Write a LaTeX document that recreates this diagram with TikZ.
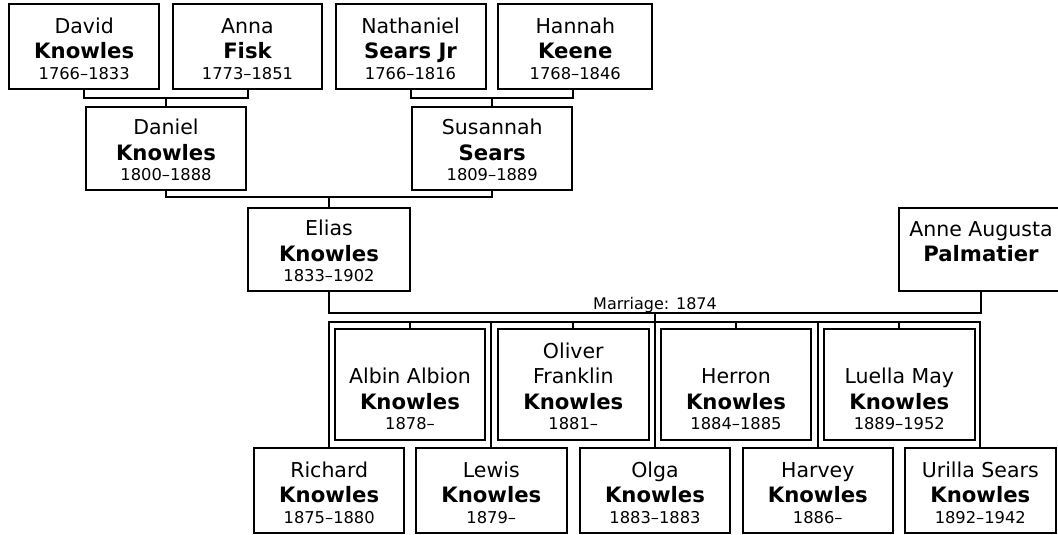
\documentclass[tikz,border=0pt]{standalone}
\usepackage{fontspec}
\setmainfont{DejaVu Sans}
\newcommand{\datef}{\fontsize{16.3}{20}\selectfont}
\newcommand{\fl}{\rule{0pt}{19pt}}
\newcommand{\bn}[1]{{\fontsize{21.2}{25.5}\selectfont\bfseries #1}}
\newcommand{\pp}[3]{\fl #1\\\bn{#2}\\[-5pt]{\datef #3}}
\tikzset{
  person/.style={draw, line width=2pt, align=center, inner sep=0pt,
    font=\fontsize{20.5}{25.5}\selectfont},
  conn/.style={line width=2pt},
  lbl/.style={font=\fontsize{16}{20}\selectfont, inner sep=0pt, anchor=base},
}
\begin{document}
\begin{tikzpicture}[x=1pt,y=1pt]
\useasboundingbox (0,0) rectangle (1058,-535);
\clip (0,0) rectangle (1058,-535);
% generation 1
\node[person, minimum width=149.7, minimum height=84.7] (david) at (84.2,-46.65) {\pp{David}{Knowles}{1766–1833}};
\node[person, minimum width=149.6, minimum height=84.7] (anna) at (247.5,-46.65) {\pp{Anna}{Fisk}{1773–1851}};
\node[person, minimum width=150, minimum height=84.7] (nathaniel) at (410.5,-46.65) {\pp{Nathaniel}{Sears Jr}{1766–1816}};
\node[person, minimum width=154, minimum height=84.7] (hannah) at (575.3,-46.65) {\pp{Hannah}{Keene}{1768–1846}};
% generation 2
\node[person, minimum width=160.3, minimum height=83] (daniel) at (166,-148.5) {\pp{Daniel}{Knowles}{1800–1888}};
\node[person, minimum width=160.3, minimum height=83] (susannah) at (492.2,-148.5) {\pp{Susannah}{Sears}{1809–1889}};
% generation 3
\node[person, minimum width=162.6, minimum height=83.6] (elias) at (329,-249.5) {\pp{Elias}{Knowles}{1833–1902}};
\node[person, minimum width=163.4, minimum height=83.6] (anne) at (981,-249.5) {\pp{Anne Augusta}{Palmatier}{\phantom{1}}};
% children, upper row
\node[person, minimum width=150, minimum height=110.7] (albin) at (410,-384.65) {\fl\\Albin Albion\\\bn{Knowles}\\[-5pt]{\datef 1878–}};
\node[person, minimum width=151.3, minimum height=110.7] (oliver) at (573.3,-384.65) {\fl Oliver\\Franklin\\\bn{Knowles}\\[-5pt]{\datef 1881–}};
\node[person, minimum width=150, minimum height=110.7] (herron) at (736,-384.65) {\fl\\Herron\\\bn{Knowles}\\[-5pt]{\datef 1884–1885}};
\node[person, minimum width=151.3, minimum height=110.7] (luella) at (899.3,-384.65) {\fl\\Luella May\\\bn{Knowles}\\[-5pt]{\datef 1889–1952}};
% children, lower row
\node[person, minimum width=149.7, minimum height=85] (richard) at (329.2,-490.8) {\pp{Richard}{Knowles}{1875–1880}};
\node[person, minimum width=150.7, minimum height=85] (lewis) at (491.3,-490.8) {\pp{Lewis}{Knowles}{1879–}};
\node[person, minimum width=150, minimum height=85] (olga) at (655,-490.8) {\pp{Olga}{Knowles}{1883–1883}};
\node[person, minimum width=149.7, minimum height=85] (harvey) at (817.8,-490.8) {\pp{Harvey}{Knowles}{1886–}};
\node[person, minimum width=150.7, minimum height=85] (urilla) at (980.3,-490.8) {\pp{Urilla Sears}{Knowles}{1892–1942}};
% junction coordinates
\coordinate (j1) at (166,-97.7);
\coordinate (j2) at (492.2,-97.7);
\coordinate (j3) at (329,-197.3);
\coordinate (m) at (655,-313.3);
\coordinate (cb) at (655,-322.3);
% connectors
\draw[conn] (david.south) |- (j1) -| (anna.south);
\draw[conn] (j1) -- (daniel.north);
\draw[conn] (nathaniel.south) |- (j2) -| ([xshift=-2.6pt]hannah.south);
\draw[conn] (j2) -- (susannah.north);
\draw[conn] (daniel.south) |- (j3) -| (susannah.south);
\draw[conn] (j3) -- (elias.north);
\draw[conn] (elias.south) |- (m) -| (anne.south);
\draw[conn] (m) -- (cb);
\draw[conn] (richard.north) |- (cb) -| (urilla.north);
\foreach \c in {albin,lewis,oliver,olga,herron,harvey,luella}
  \draw[conn] (\c.north) -- (\c.north |- cb);
\node[lbl] (mlabel) at (655,-309) {Marriage: 1874};
\end{tikzpicture}
\end{document}
